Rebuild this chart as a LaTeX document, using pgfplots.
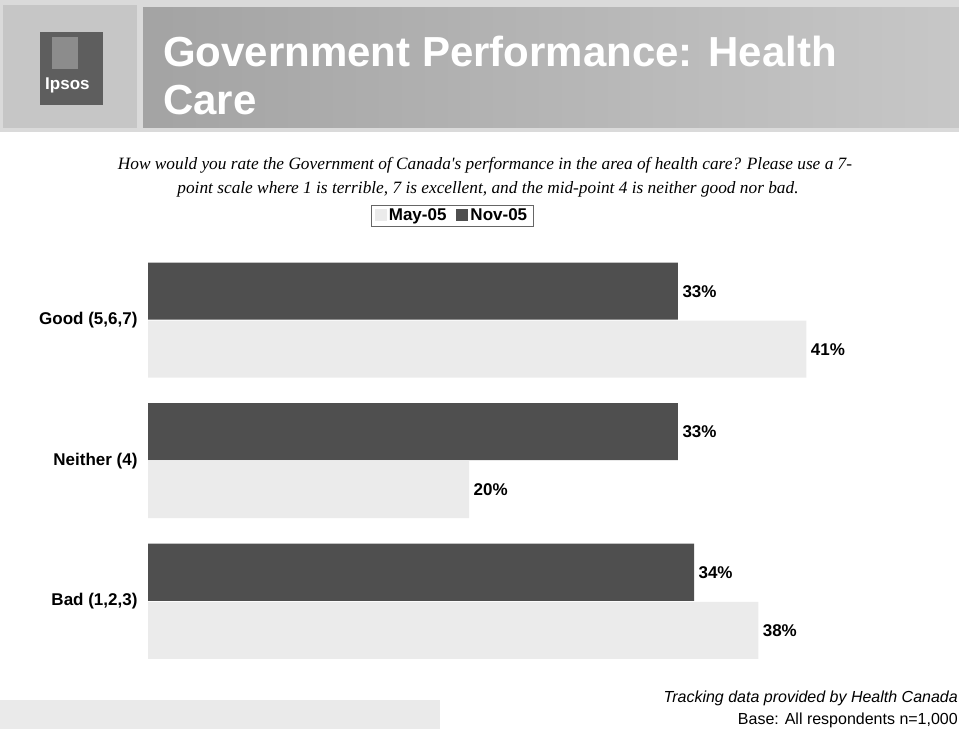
\documentclass[border=0pt]{standalone}
\usepackage{pgfplots}
\pgfplotsset{compat=1.18}
\usepackage{fontspec}
\setmainfont{Liberation Sans}
\newfontfamily\seriffont{Liberation Serif}

\definecolor{darkbar}{HTML}{4F4F4F}
\definecolor{lightbar}{HTML}{EBEBEB}
\definecolor{panel}{HTML}{C6C6C6}
\definecolor{logo}{HTML}{5E5E5E}
\definecolor{topbg}{HTML}{DADADA}
\definecolor{footbg}{HTML}{EAEAEA}

\newcommand\labfont{\fontsize{17}{20}\selectfont\bfseries}

\begin{document}
\begin{tikzpicture}[x=1pt,y=1pt]
\useasboundingbox (0,0) rectangle (959,729);

% header
\fill[topbg] (0,597) rectangle (959,729);
\fill[panel] (3,601) rectangle (137,724);
\shade[left color=black!36, right color=black!22] (143,601) rectangle (959,721);
\fill[logo] (40,624) rectangle (103,697);
\fill[black!45] (52,660) rectangle (78,692);
\node[anchor=base west, text=white, font=\fontsize{17}{20}\selectfont\bfseries, inner sep=0pt] at (45,639) {Ipsos};
\node[anchor=base west, text=white, font=\fontsize{42}{48}\selectfont\bfseries, inner sep=0pt] at (163,662) {Government Performance: Health};
\node[anchor=base west, text=white, font=\fontsize{42}{48}\selectfont\bfseries, inner sep=0pt] at (163,614) {Care};

% question
\node[anchor=base, font=\seriffont\itshape\fontsize{17.3}{20}\selectfont, inner sep=0pt] at (485,559) {How would you rate the Government of Canada's performance in the area of health care? Please use a 7-};
\node[anchor=base, font=\seriffont\itshape\fontsize{17.3}{20}\selectfont, inner sep=0pt] at (488,535) {point scale where 1 is terrible, 7 is excellent, and the mid-point 4 is neither good nor bad.};

% footer
\fill[footbg] (0,0) rectangle (440,29);
\node[anchor=base east, font=\itshape\fontsize{16}{18}\selectfont, inner sep=0pt] at (958,27) {Tracking data provided by Health Canada};
\node[anchor=base east, font=\fontsize{16}{18}\selectfont, inner sep=0pt] at (958,5) {Base: All respondents n=1,000};

\begin{axis}[
  at={(148pt,57.5pt)}, anchor=south west,
  scale only axis, width=803pt, height=421.5pt,
  xbar, bar width=57pt,
  xmin=0, xmax=50, ymin=-0.5, ymax=2.5,
  axis line style={draw=none},
  major tick length=0pt,
  xtick=\empty,
  ytick={0,1,2},
  yticklabels={{Bad (1,2,3)}, {Neither (4)}, {Good (5,6,7)}},
  yticklabel style={font=\labfont, xshift=-7pt},
  point meta=x,
  /pgf/number format/assume math mode=true,
  nodes near coords={\pgfmathprintnumber{\pgfplotspointmeta}\%},
  nodes near coords style={font=\labfont, anchor=west, xshift=1pt},
  clip=false,
  legend columns=2,
  legend style={at={(0.3786,1.0819)}, anchor=center, draw=black!60,
    font=\fontsize{17}{19}\selectfont\bfseries, inner xsep=4pt, inner ysep=2pt,
    /tikz/every even column/.append style={column sep=8pt}},
  legend image code/.code={\fill[#1,draw=none] (0pt,-6pt) rectangle (12pt,6pt);},
]
\addplot[fill=lightbar, draw=none, bar shift=-29pt] coordinates {(41,2) (20,1) (38,0)};
\addplot[fill=darkbar, draw=none, bar shift=29pt] coordinates {(33,2) (33,1) (34,0)};
\legend{May-05, Nov-05}
\end{axis}
\end{tikzpicture}
\end{document}
